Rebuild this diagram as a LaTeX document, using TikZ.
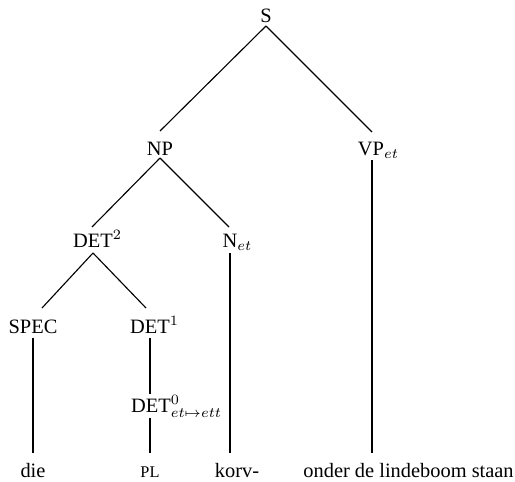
\documentclass[tikz,border=0pt]{standalone}
\usepackage{fontspec}
\setmainfont{Liberation Serif}
\usetikzlibrary{calc}
\tikzset{
  lab/.style={anchor=base, inner sep=0pt},
  edge/.style={draw=black, line width=0.55pt},
}
\begin{document}
\begin{tikzpicture}[x=0.49pt, y=-0.49pt]
\useasboundingbox (0,0) rectangle (515,482);
% nodes (x, baseline)
\node[lab] (S)    at (266,22)  {S};
\node[lab] (NP)   at (160,155) {NP};
\node[lab] (VP)   at (371,155) {VP\rlap{$_{et}$}};
\node[lab] (DETb) at (93,247)  {DET\rlap{$^2$}};
\node[lab] (N)    at (230,247) {N\rlap{$_{et}$}};
\node[lab] (SPEC) at (33,333)  {SPEC};
\node[lab] (DETa) at (150,333) {DET\rlap{$^1$}};
\node[lab] (die)  at (33,477)  {die};
\node[lab] (PL)   at (150,477) {\footnotesize PL};
\node[lab] (korv) at (237,477) {korv-};
\node[lab, anchor=base west] (onder) at (303,477) {onder de lindeboom staan};
% edges
\draw[edge] ($(S.base)+(0,4)$) -- ($(NP.base)+(0,-24)$);
\draw[edge] ($(S.base)+(0,4)$) -- ($(VP.base)+(1,-23)$);
\draw[edge] ($(NP.base)+(0,3)$) -- ($(DETb.base)+(-1,-20)$);
\draw[edge] ($(NP.base)+(0,3)$) -- ($(N.base)+(-1,-20)$);
\draw[edge] ($(DETb.base)+(0,6)$) -- ($(SPEC.base)+(9,-25)$);
\draw[edge] ($(DETb.base)+(0,6)$) -- ($(DETa.base)+(-4,-25)$);
\draw[edge] ($(SPEC.base)+(0,5)$) -- ($(SPEC.base |- die.base)+(0,-24)$);
\draw[edge] ($(DETa.base)+(0,5)$) -- ($(DETa.base |- PL.base)+(0,-24)$);
\draw[edge] ($(N.base)+(0,6)$) -- ($(N.base |- korv.base)+(0,-24)$);
\draw[edge] ($(VP.base)+(1,5)$) -- ($(VP.base |- onder.base)+(1,-24)$);
% DET0 over the line
\node[lab, fill=white, inner xsep=0pt, inner ysep=0.6pt] (DETz) at (151,412) {DET\rlap{$^0_{et\mapsto ett}$}};
\end{tikzpicture}
\end{document}
